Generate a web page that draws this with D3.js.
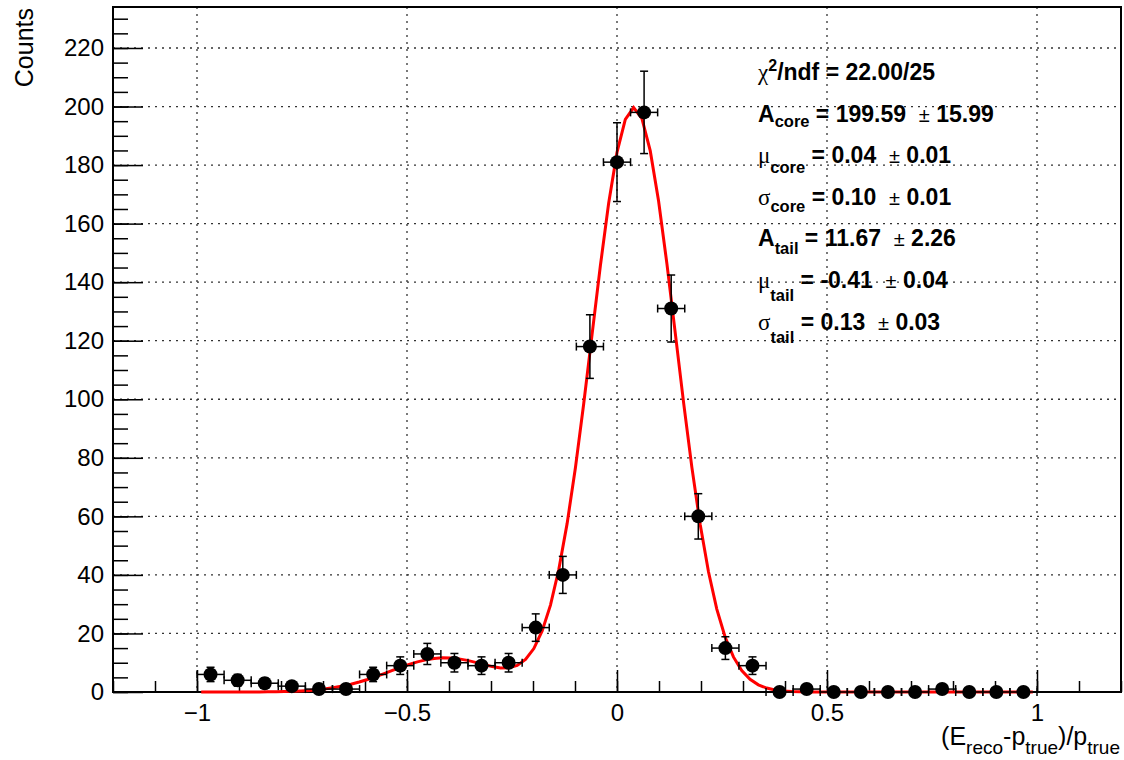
<!DOCTYPE html>
<html>
<head>
<meta charset="utf-8">
<script src="https://cdn.jsdelivr.net/npm/d3@7"></script>
<style>
  body { margin: 0; background: #fff; }
  text { font-family: "Liberation Sans", Arial, sans-serif; fill: #000; }
  .stat { white-space: pre; }
  .greek { font-family: "Liberation Serif", "DejaVu Serif", serif; font-weight: normal; }
</style>
</head>
<body>
<div id="chart-area"></div>
<script>
// histogram: 31 bins between -1 and 1
const binLow = -1;
const binHigh = 1;
const counts = [6, 4, 3, 2, 1, 1, 6, 9, 13, 10, 9, 10, 22, 40, 118, 181, 198, 131, 60, 15, 9,
                0, 1, 0, 0, 0, 0, 1, 0, 0, 0];

// fit parameters: A_core, mu_core, sigma_core, A_tail, mu_tail, sigma_tail
const fitParams = [199.59, 0.04, 0.10, 11.67, -0.41, 0.13];
const fitRange = [-0.99, 0.99];

const xTicks = [-1, -0.5, 0, 0.5, 1];
const yTicks = [0, 20, 40, 60, 80, 100, 120, 140, 160, 180, 200, 220];

const statLines = [
    [{t: "\u03c7", c: "g"}, {t: "2", c: "sup"}, {t: "/ndf = 22.00/25"}],
    [{t: "A"}, {t: "core", c: "sub", dy: 5}, {t: " = 199.59  "}, {t: "\u00b1", c: "pm"}, {t: " 15.99"}],
    [{t: "\u03bc", c: "g"}, {t: "core", c: "sub", dy: 10}, {t: " = 0.04  "}, {t: "\u00b1", c: "pm"}, {t: " 0.01"}],
    [{t: "\u03c3", c: "g"}, {t: "core", c: "sub", dy: 7}, {t: " = 0.10  "}, {t: "\u00b1", c: "pm"}, {t: " 0.01"}],
    [{t: "A"}, {t: "tail", c: "sub", dy: 8}, {t: " = 11.67  "}, {t: "\u00b1", c: "pm"}, {t: " 2.26"}],
    [{t: "\u03bc", c: "g"}, {t: "tail", c: "sub", dy: 13}, {t: " = -0.41  "}, {t: "\u00b1", c: "pm"}, {t: " 0.04"}],
    [{t: "\u03c3", c: "g"}, {t: "tail", c: "sub", dy: 13}, {t: " = 0.13  "}, {t: "\u00b1", c: "pm"}, {t: " 0.03"}]
];

const margin = { left: 113, right: 3, top: 7, bottom: 68 };
const width = 1124 - margin.left - margin.right;
const height = 760 - margin.top - margin.bottom;

const svg = d3.select("#chart-area")
    .append("svg")
    .attr("width", 1124)
    .attr("height", 760);

const g = svg.append("g")
    .attr("transform", `translate(${margin.left}, ${margin.top})`);

const x = d3.scaleLinear().domain([-1.2, 1.2]).range([0, width]);
const y = d3.scaleLinear().domain([0, 234]).range([height, 0]);

const nBins = counts.length;
const binW = (binHigh - binLow) / nBins;
const data = counts.map((c, i) => ({
    x: binLow + (i + 0.5) * binW,
    y: c,
    err: Math.sqrt(c)
}));

// grid
g.append("g")
    .selectAll("line")
    .data(xTicks)
    .enter()
    .append("line")
    .attr("x1", d => x(d)).attr("x2", d => x(d))
    .attr("y1", 0).attr("y2", height)
    .attr("stroke", "#333")
    .attr("stroke-width", 1.3)
    .attr("stroke-dasharray", "2,5");

g.append("g")
    .selectAll("line")
    .data(yTicks.filter(d => d > 0))
    .enter()
    .append("line")
    .attr("x1", 0).attr("x2", width)
    .attr("y1", d => y(d)).attr("y2", d => y(d))
    .attr("stroke", "#333")
    .attr("stroke-width", 1.3)
    .attr("stroke-dasharray", "2,5");

// axes
const xMinor = d3.range(-12, 13).map(d => d / 10);
const yMinor = d3.range(0, 235, 5);

g.append("g")
    .attr("transform", `translate(0, ${height})`)
    .call(d3.axisBottom(x).tickValues(xMinor).tickSize(-11).tickFormat(""))
    .call(a => a.select(".domain").remove())
    .selectAll("line").attr("stroke", "#000").attr("stroke-width", 1.5);

g.append("g")
    .attr("class", "x-axis")
    .attr("transform", `translate(0, ${height})`)
    .call(d3.axisBottom(x).tickValues(xTicks).tickSize(-22).tickPadding(12)
        .tickFormat(d => d === 0 ? "0" : d3.format("")(d).replace("-", "\u2212")))
    .call(a => a.select(".domain").remove())
    .call(a => a.selectAll("line").attr("stroke", "#000").attr("stroke-width", 1.5))
    .selectAll("text")
    .attr("font-size", "24px")
    .attr("font-family", "Liberation Sans, Arial, sans-serif")
    .attr("fill", "#000");

g.append("g")
    .call(d3.axisLeft(y).tickValues(yMinor).tickSize(-15).tickFormat(""))
    .call(a => a.select(".domain").remove())
    .selectAll("line").attr("stroke", "#000").attr("stroke-width", 1.5);

g.append("g")
    .attr("class", "y-axis")
    .call(d3.axisLeft(y).tickValues(yTicks).tickSize(-30).tickPadding(9))
    .call(a => a.select(".domain").remove())
    .call(a => a.selectAll("line").attr("stroke", "#000").attr("stroke-width", 1.5))
    .selectAll("text")
    .attr("font-size", "24px")
    .attr("font-family", "Liberation Sans, Arial, sans-serif")
    .attr("fill", "#000");

// frame
g.append("rect")
    .attr("x", 0).attr("y", 0)
    .attr("width", width).attr("height", height)
    .attr("fill", "none")
    .attr("stroke", "#000")
    .attr("stroke-width", 2);

// fit curve
const fitFn = v => {
    const [ac, mc, sc, at, mt, st] = fitParams;
    return ac * Math.exp(-0.5 * ((v - mc) / sc) ** 2) + at * Math.exp(-0.5 * ((v - mt) / st) ** 2);
};
const fitX = d3.range(0, 101).map(i => fitRange[0] + i * (fitRange[1] - fitRange[0]) / 100);

g.append("path")
    .datum(fitX)
    .attr("fill", "none")
    .attr("stroke", "#ff0000")
    .attr("stroke-width", 3)
    .attr("d", d3.line().x(d => x(d)).y(d => y(fitFn(d))));

// error bars
const hw = x(binW / 2) - x(0);
const cap = 4;
const eb = g.append("g").attr("stroke", "#000").attr("stroke-width", 1.5);
data.forEach(d => {
    const cx = x(d.x), cy = y(d.y);
    eb.append("line").attr("x1", cx - hw).attr("x2", cx + hw).attr("y1", cy).attr("y2", cy);
    eb.append("line").attr("x1", cx - hw).attr("x2", cx - hw).attr("y1", cy - cap).attr("y2", cy + cap);
    eb.append("line").attr("x1", cx + hw).attr("x2", cx + hw).attr("y1", cy - cap).attr("y2", cy + cap);
    if (d.err > 0) {
        const y1 = y(d.y + d.err), y2 = y(d.y - d.err);
        eb.append("line").attr("x1", cx).attr("x2", cx).attr("y1", y1).attr("y2", y2);
        eb.append("line").attr("x1", cx - cap).attr("x2", cx + cap).attr("y1", y1).attr("y2", y1);
        eb.append("line").attr("x1", cx - cap).attr("x2", cx + cap).attr("y1", y2).attr("y2", y2);
    }
});

g.selectAll("circle")
    .data(data)
    .enter()
    .append("circle")
    .attr("cx", d => x(d.x))
    .attr("cy", d => y(d.y))
    .attr("r", 7)
    .attr("fill", "#000");

// axis titles
svg.append("text")
    .attr("transform", "translate(33, 8) rotate(-90)")
    .attr("text-anchor", "end")
    .attr("font-size", "25px")
    .text("Counts");

const xt = svg.append("text")
    .attr("x", 1120)
    .attr("y", 745)
    .attr("text-anchor", "end")
    .attr("font-size", "25px");
xt.append("tspan").text("(E");
xt.append("tspan").attr("font-size", "19px").attr("dy", 9).text("reco");
xt.append("tspan").attr("dy", -9).text("-p");
xt.append("tspan").attr("font-size", "19px").attr("dy", 9).text("true");
xt.append("tspan").attr("dy", -9).text(")/p");
xt.append("tspan").attr("font-size", "19px").attr("dy", 9).text("true");

// fit statistics
statLines.forEach((line, i) => {
    const t = svg.append("text")
        .attr("class", "stat")
        .attr("x", 758)
        .attr("y", 80 + i * 41.6)
        .attr("font-size", "23px")
        .attr("font-weight", "bold");
    let shift = 0;
    line.forEach(s => {
        const dy = (s.c === "sub" ? s.dy : s.c === "sup" ? -9 : 0) - shift;
        shift += dy;
        const ts = t.append("tspan").attr("dy", dy).text(s.t);
        if (s.c === "g") ts.attr("class", "greek").attr("font-size", "23px");
        if (s.c === "sub") ts.attr("font-size", "16.5px");
        if (s.c === "sup") ts.attr("font-size", "16px");
        if (s.c === "pm") ts.attr("font-weight", "normal").attr("font-size", "20px");
    });
});
</script>
</body>
</html>
